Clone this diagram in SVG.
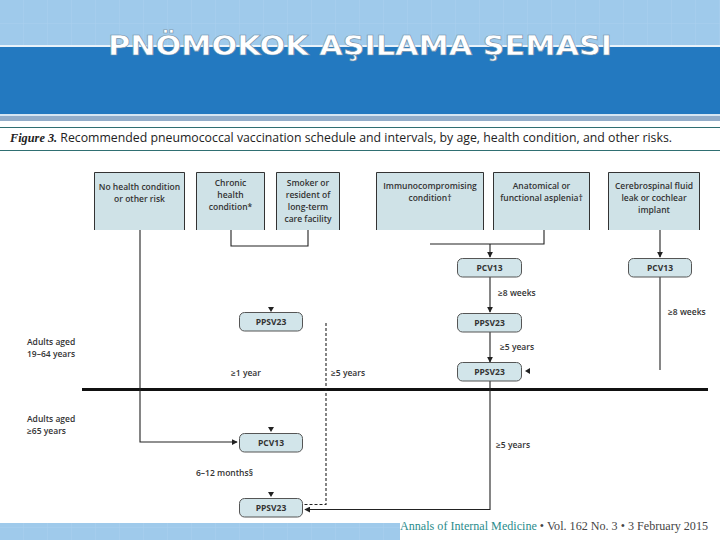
<svg xmlns="http://www.w3.org/2000/svg" width="720" height="540" viewBox="0 0 720 540">
<defs>
<style>
.hdr{fill:#cfe2e7;stroke:none}
.hb{fill:none;stroke:#333;stroke-width:1}
.t{font-family:"Open Sans","Liberation Sans",sans-serif;font-size:8.5px;font-weight:600;fill:#333}
.tc{text-anchor:middle}
.node{fill:#d2e5ea;stroke:#555;stroke-width:1}
.nt{font-family:"Open Sans","Liberation Sans",sans-serif;font-size:8.5px;font-weight:700;fill:#333;text-anchor:middle}
.ln{fill:none;stroke:#222;stroke-width:1.1}
.dash{fill:none;stroke:#222;stroke-width:1.1;stroke-dasharray:3,2}
</style>
<marker id="ah" viewBox="0 0 8 8" refX="7" refY="4" markerWidth="6" markerHeight="6" orient="auto" markerUnits="userSpaceOnUse">
<path d="M0,0 L8,4 L0,8 z" fill="#222"/>
</marker>
<pattern id="grid" width="24" height="24" patternUnits="userSpaceOnUse">
<path d="M24,0 L24,24 M0,24 L24,24" stroke="#b3d5f0" stroke-width="1" fill="none"/>
</pattern>
</defs>
<rect x="0" y="0" width="720" height="540" fill="#ffffff"/>
<g id="banner">
<rect x="0" y="0" width="720" height="45" fill="#9fcaeb"/>
<rect x="0" y="0" width="720" height="45" fill="url(#grid)" opacity="0.6"/>
<rect x="0" y="45" width="720" height="2" fill="#e8f2fa"/>
<rect x="0" y="47" width="720" height="67" fill="#2379c0"/>
<rect x="0" y="114" width="720" height="2" fill="#d6e6f2"/>
<rect x="0" y="116" width="720" height="5" fill="#93adc9"/>
<text x="360" y="55" text-anchor="middle" font-family="DejaVu Sans, Verdana, sans-serif" font-weight="bold" font-size="27" fill="#ffffff" stroke="#6f8fa8" stroke-width="0.6" textLength="504" lengthAdjust="spacingAndGlyphs">PNÖMOKOK AŞILAMA ŞEMASI</text>
</g>
<g id="caption">
<line x1="0" y1="127.5" x2="720" y2="127.5" stroke="#2f6f72" stroke-width="1.2"/>
<line x1="0" y1="150.5" x2="720" y2="150.5" stroke="#2f6f72" stroke-width="1.2"/>
<text x="10" y="142" font-family="Open Sans, Liberation Sans, sans-serif" font-size="12" fill="#222" textLength="662" lengthAdjust="spacingAndGlyphs"><tspan font-family="Liberation Serif, serif" font-style="italic" font-weight="bold">Figure 3.</tspan> Recommended pneumococcal vaccination schedule and intervals, by age, health condition, and other risks.</text>
</g>
<g id="box-none">
<rect class="hdr" x="94" y="172" width="91" height="58"/>
<path class="hb" d="M94.5,230 V172.5 H184.5 V230"/>
<text class="t tc" x="139.5" y="190">No health condition</text>
<text class="t tc" x="139.5" y="202">or other risk</text>
</g>
<g id="box-chronic">
<rect class="hdr" x="196" y="172" width="69" height="58"/>
<path class="hb" d="M196.5,230 V172.5 H264.5 V230"/>
<text class="t tc" x="230.5" y="186">Chronic</text>
<text class="t tc" x="230.5" y="198">health</text>
<text class="t tc" x="230.5" y="210">condition*</text>
</g>
<g id="box-smoker">
<rect class="hdr" x="276" y="172" width="64" height="58"/>
<path class="hb" d="M276.5,230 V172.5 H339.5 V230"/>
<text class="t tc" x="308" y="186">Smoker or</text>
<text class="t tc" x="308" y="198">resident of</text>
<text class="t tc" x="308" y="210">long-term</text>
<text class="t tc" x="308" y="222">care facility</text>
</g>
<g id="box-immuno">
<rect class="hdr" x="376" y="172" width="108" height="58"/>
<path class="hb" d="M376.5,230 V172.5 H483.5 V230"/>
<text class="t tc" x="430" y="189">Immunocompromising</text>
<text class="t tc" x="430" y="201">condition†</text>
</g>
<g id="box-asplenia">
<rect class="hdr" x="493" y="172" width="97" height="58"/>
<path class="hb" d="M493.5,230 V172.5 H589.5 V230"/>
<text class="t tc" x="541.5" y="189">Anatomical or</text>
<text class="t tc" x="541.5" y="201">functional asplenia†</text>
</g>
<g id="box-csf">
<rect class="hdr" x="608" y="172" width="92" height="58"/>
<path class="hb" d="M608.5,230 V172.5 H699.5 V230"/>
<text class="t tc" x="654" y="189">Cerebrospinal fluid</text>
<text class="t tc" x="654" y="201">leak or cochlear</text>
<text class="t tc" x="654" y="213">implant</text>
</g>
<g id="labels">
<text class="t" x="27" y="345">Adults aged</text>
<text class="t" x="27" y="357">19–64 years</text>
<text class="t" x="27" y="422">Adults aged</text>
<text class="t" x="27" y="434">≥65 years</text>
<text class="t" x="231" y="376">≥1 year</text>
<text class="t" x="331" y="376">≥5 years</text>
<text class="t" x="498" y="296">≥8 weeks</text>
<text class="t" x="500" y="350">≥5 years</text>
<text class="t" x="668" y="315">≥8 weeks</text>
<text class="t" x="496" y="448">≥5 years</text>
<text class="t" x="196" y="476">6–12 months§</text>
</g>
<g id="connectors">
<line x1="82" y1="389.5" x2="708" y2="389.5" stroke="#111" stroke-width="3.2"/>
<path class="ln" d="M140,230 V442 H237" marker-end="url(#ah)"/>
<path class="ln" d="M231,230 V246 H308 V230"/>
<path d="M268,307 L274,307 L271,312 z" fill="#222"/>
<path d="M268,427 L274,427 L271,432 z" fill="#222"/>
<path d="M268,492 L274,492 L271,497 z" fill="#222"/>
<path class="dash" d="M326,323 V504.5 H304"/>
<path class="ln" d="M430,244 H544 V230"/>
<path class="ln" d="M490,244 V257" marker-end="url(#ah)"/>
<path class="ln" d="M490,277 V312" marker-end="url(#ah)"/>
<path class="ln" d="M490,332 V362" marker-end="url(#ah)"/>
<path d="M530,368 L530,374 L525,371 z" fill="#222"/>
<path class="ln" d="M490,381 V509.5 H305" marker-end="url(#ah)"/>
<path class="ln" d="M660,230 V257" marker-end="url(#ah)"/>
<path class="ln" d="M660,277 V370"/>
</g>
<g id="pcv13-right">
<rect class="node" x="457.5" y="258.5" width="64" height="18.5" rx="5"/>
<text class="nt" x="489.5" y="271">PCV13</text>
</g>
<g id="ppsv23-right1">
<rect class="node" x="457.5" y="313.5" width="64" height="18.5" rx="5"/>
<text class="nt" x="489.5" y="326">PPSV23</text>
</g>
<g id="ppsv23-right2">
<rect class="node" x="457.5" y="362.5" width="64" height="18.5" rx="5"/>
<text class="nt" x="489.5" y="375">PPSV23</text>
</g>
<g id="pcv13-far">
<rect class="node" x="628.5" y="258.5" width="63" height="18.5" rx="5"/>
<text class="nt" x="660" y="271">PCV13</text>
</g>
<g id="ppsv23-left1">
<rect class="node" x="239.5" y="312.5" width="63" height="18.5" rx="5"/>
<text class="nt" x="271" y="325">PPSV23</text>
</g>
<g id="pcv13-left">
<rect class="node" x="239.5" y="433.5" width="63" height="18.5" rx="5"/>
<text class="nt" x="271" y="446">PCV13</text>
</g>
<g id="ppsv23-left2">
<rect class="node" x="239.5" y="498.5" width="63" height="18.5" rx="5"/>
<text class="nt" x="271" y="511">PPSV23</text>
</g>
<g id="footer">
<rect x="0" y="523" width="400" height="17" fill="#9fcaeb"/>
<rect x="0" y="523" width="400" height="17" fill="url(#grid)" opacity="0.6"/>
<text x="400" y="530" font-family="Liberation Serif, serif" font-size="11.5" fill="#444" textLength="308" lengthAdjust="spacingAndGlyphs"><tspan fill="#2a8c8c">Annals of Internal Medicine</tspan> • Vol. 162  No. 3 • 3 February 2015</text>
</g>
</svg>
